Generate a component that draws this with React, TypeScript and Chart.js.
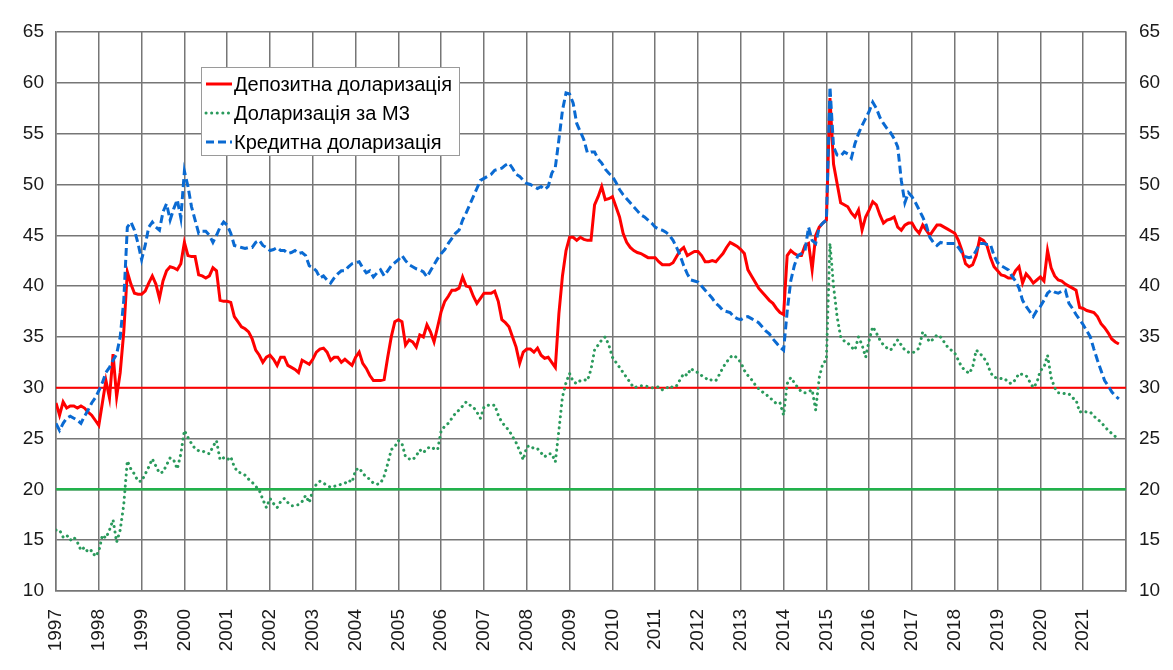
import { useEffect, useRef } from 'react';
import { Chart, registerables } from 'chart.js';

Chart.register(...registerables);

const START_YEAR = 1997;
const END_YEAR = 2022;
const TICK_YEARS = [1997, 1998, 1999, 2000, 2001, 2002, 2003, 2004, 2005, 2006, 2007, 2008, 2009, 2010, 2011, 2012, 2013, 2014, 2015, 2016, 2017, 2018, 2019, 2020, 2021];
const Y_MIN = 10;
const Y_MAX = 65;
const Y_STEP = 5;
const DEPOSIT_REF = 30;
const M3_REF = 20;

const SERIES_NAMES = ['Депозитна доларизація', 'Доларизація за М3', 'Кредитна доларизація'];

// monthly values, Jan 1997 .. Nov 2021
const depositDollarization = [
  28.5, 27.3, 28.6, 28.0, 28.2, 28.2, 28.0, 28.2, 28.0, 27.6, 27.3, 26.8,
  26.3, 28.5, 30.7, 29.0, 33.3, 29.1, 31.5, 35.5, 41.4, 40.2, 39.3, 39.2,
  39.2, 39.5, 40.3, 41.0, 40.2, 38.8, 40.5, 41.5, 41.9, 41.8, 41.6, 42.2,
  44.3, 43.0, 42.9, 42.9, 41.1, 41.0, 40.8, 41.0, 41.8, 41.5, 38.6, 38.5,
  38.5, 38.4, 37.0, 36.5, 36.0, 35.8, 35.5, 34.8, 33.7, 33.2, 32.5, 33.0,
  33.2, 32.8, 32.2, 33.0, 33.0, 32.2, 32.0, 31.8, 31.5, 32.7, 32.5, 32.3,
  32.8, 33.5, 33.8, 33.9, 33.5, 32.7, 33.0, 33.0, 32.5, 32.8, 32.5, 32.2,
  33.0, 33.5, 32.4, 31.9, 31.2, 30.7, 30.7, 30.7, 30.8, 33.0, 35.0, 36.5,
  36.7, 36.5, 34.2, 34.7, 34.5, 34.0, 35.2, 35.0, 36.2, 35.5, 34.5, 36.0,
  37.5, 38.5, 39.0, 39.6, 39.6, 39.8, 40.9, 40.0, 39.9, 39.0, 38.3, 38.8,
  39.3, 39.3, 39.3, 39.5, 38.5, 36.7, 36.4, 36.0, 35.0, 34.0, 32.4, 33.5,
  33.8, 33.8, 33.5, 33.9, 33.2, 32.9, 33.0, 32.5, 32.0, 37.3, 41.0, 43.5,
  44.8, 44.8, 44.5, 44.8, 44.6, 44.5, 44.5, 48.0, 48.8, 49.8, 48.5, 48.6,
  48.8, 47.8, 46.8, 45.2, 44.3, 43.8, 43.5, 43.3, 43.2, 43.0, 42.8, 42.8,
  42.8, 42.4, 42.1, 42.1, 42.1, 42.3, 42.9, 43.5, 43.8, 43.0, 43.2, 43.4,
  43.4, 43.0, 42.4, 42.4, 42.5, 42.4, 42.8, 43.2, 43.8, 44.3, 44.1, 43.9,
  43.6, 43.2, 41.6, 41.0, 40.4, 39.8, 39.4, 39.0, 38.6, 38.3, 37.8, 37.4,
  37.2, 43.0, 43.5, 43.2, 43.0, 43.0, 44.0, 44.2, 41.6, 45.0, 45.8, 46.2,
  46.5, 58.5, 52.0, 50.1, 48.2, 48.0, 47.8, 47.2, 46.8, 47.5, 45.5, 46.8,
  47.5, 48.3, 48.0, 47.0, 46.2, 46.5, 46.6, 46.8, 45.8, 45.5, 46.0, 46.2,
  46.2, 45.6, 45.2, 46.0, 45.5, 45.0, 45.5, 46.0, 46.0, 45.8, 45.6, 45.4,
  45.2, 44.5, 43.5, 42.2, 41.9, 42.1, 43.0, 44.7, 44.5, 44.0, 42.8, 41.9,
  41.5, 41.1, 41.0, 40.8, 40.8, 41.5, 41.9, 40.3, 41.2, 40.8, 40.3, 40.6,
  40.9, 40.5, 43.5, 41.8, 41.0, 40.6, 40.5, 40.2, 40.0, 39.8, 39.6, 37.9,
  37.8, 37.6, 37.5, 37.4, 37.0, 36.3, 35.9, 35.4, 34.8, 34.5, 34.3,
];

const m3Dollarization = [
  16.0, 16.0, 15.3, 15.5, 15.0, 15.3, 14.8, 14.0, 14.3, 13.8, 14.0, 13.4,
  13.9, 15.5, 15.2, 16.0, 17.0, 14.8, 16.0, 18.5, 22.8, 22.0, 21.5, 20.8,
  20.8, 21.5, 22.2, 23.0, 22.3, 21.6, 21.7, 22.4, 23.1, 22.9, 22.0, 23.5,
  25.8, 25.1, 24.5, 24.0, 23.8, 23.8, 23.6, 23.5, 24.2, 24.8, 22.9, 23.1,
  22.9, 23.2, 22.2, 21.7, 21.6, 21.4, 21.0, 20.7, 20.3, 19.9, 19.0, 18.2,
  19.1, 18.6, 18.2, 18.8, 19.1, 18.7, 18.4, 18.4, 18.5, 18.8, 19.4, 18.7,
  19.9, 20.5, 20.8, 20.6, 20.4, 20.2, 20.3, 20.4, 20.5, 20.6, 20.9, 20.7,
  21.9, 22.1, 21.6, 21.2, 21.0, 20.6, 20.5, 20.6, 21.3, 22.5, 23.9, 24.2,
  24.8, 24.5, 23.2, 23.0, 22.9, 23.3, 23.9, 23.6, 24.0, 24.2, 24.0, 23.9,
  25.8, 26.2, 26.5, 27.0, 27.5, 27.8, 28.2, 28.6, 28.3, 28.1, 27.6, 27.0,
  28.1, 28.3, 28.2, 28.3, 27.3, 26.6, 26.2, 25.8, 25.2, 24.6, 23.8, 22.9,
  24.2, 24.3, 24.0, 24.0, 23.6, 23.2, 23.5, 23.5, 22.7, 25.8, 29.1, 30.5,
  31.4, 30.6, 30.4, 30.7, 30.8, 30.7, 31.8, 33.7, 34.2, 34.7, 35.0, 34.2,
  33.0, 32.5, 32.0, 31.5, 31.0, 30.5, 30.0, 30.1, 30.2, 30.2, 30.1, 30.0,
  30.0, 30.1, 29.8, 29.9, 30.2, 30.0, 30.2, 30.8, 31.4, 31.2, 31.9, 31.6,
  31.5, 31.2, 31.0, 30.7, 30.8, 30.7, 31.3, 32.0, 32.5, 33.0, 33.2, 32.9,
  32.5, 31.7, 31.2, 30.8, 30.3, 29.9, 29.6, 29.4, 29.0, 28.8, 28.4, 28.5,
  27.3, 30.4, 31.0, 30.5, 30.0, 29.6, 29.5, 29.6, 29.8, 27.8, 31.0, 32.4,
  32.7, 44.2, 40.0, 37.0, 35.0, 34.6, 34.4, 34.0, 33.7, 35.0, 34.2, 33.0,
  34.7, 36.0, 35.4, 34.7, 34.2, 33.9, 33.7, 34.2, 34.7, 34.2, 33.7, 33.5,
  33.4, 33.6, 33.9, 35.5, 35.0, 34.5, 34.8, 35.2, 35.0, 34.5, 34.0, 33.7,
  33.4, 32.7, 32.0, 31.7, 31.4, 32.0, 33.7, 33.4, 33.0, 32.5, 31.5, 31.0,
  31.0, 30.9, 30.9, 30.5, 30.4, 30.8, 31.4, 31.3, 31.2, 30.6, 30.0, 30.5,
  31.7, 32.0, 33.2, 31.0, 30.0, 29.5, 29.5, 29.4, 29.4, 29.0, 28.8, 27.6,
  27.7, 27.6, 27.6, 27.2, 26.9, 26.6, 26.2, 25.8, 25.5, 25.2, 25.0,
];

const creditDollarization = [
  26.5, 25.8, 26.5, 27.0, 27.2, 27.0, 26.8, 26.5, 27.2, 27.8, 28.5, 29.0,
  29.7, 30.5, 31.5, 32.0, 32.7, 33.3, 35.0, 38.6, 45.8, 46.3, 45.5, 44.2,
  42.6, 44.0, 45.8, 46.3, 45.8, 45.5, 47.3, 48.1, 46.5, 47.6, 48.5, 46.7,
  51.3, 49.8, 47.8, 46.5, 45.2, 45.4, 45.4, 45.0, 44.3, 45.0, 45.8, 46.3,
  46.0, 45.2, 44.0, 43.9, 43.8, 43.7, 43.8, 43.8, 44.3, 44.5, 44.0, 43.8,
  43.5, 43.6, 43.8, 43.5, 43.5, 43.2, 43.3, 43.5, 43.2, 43.3, 43.0, 42.0,
  41.8, 41.5, 40.8, 41.0, 40.6, 40.3, 40.8, 41.2, 41.5, 41.5, 41.9, 42.2,
  42.3, 42.4, 41.8, 41.3, 41.5, 40.9, 41.3, 41.6, 41.0, 41.5, 42.0, 42.3,
  42.6, 43.0, 42.5, 42.1, 41.9, 41.7, 41.6, 41.4, 40.9, 41.5, 42.1, 42.7,
  43.2, 43.6, 44.2, 44.7, 45.2, 45.5, 46.5, 47.2, 48.0, 48.8, 49.6, 50.4,
  50.6, 50.8, 51.0, 51.4, 51.5, 51.6, 51.9, 52.1, 51.6, 51.0, 50.8, 50.4,
  50.1, 50.0, 49.8, 49.6, 49.8, 49.5, 49.8, 51.1, 51.7, 54.4, 57.3, 59.0,
  58.9, 58.0, 56.0, 55.2, 54.4, 53.1, 53.2, 53.2, 52.5, 52.1, 51.5, 51.1,
  50.8, 50.2, 49.5, 49.0, 48.6, 48.2, 47.8, 47.4, 47.0, 46.8, 46.5, 46.2,
  45.8, 45.6, 45.5, 45.3, 45.0, 44.5, 43.8, 43.0, 42.0, 41.2, 40.6, 40.5,
  40.4, 40.0, 39.6, 39.2, 38.8, 38.3, 38.0, 37.6, 37.5, 37.4, 37.0, 36.8,
  36.7, 36.9, 37.0, 36.8, 36.6, 36.4, 36.0, 35.6, 35.3, 34.8, 34.4, 34.0,
  33.7, 37.5, 40.5, 42.0, 43.0, 43.2, 43.5, 45.8, 44.5, 44.2, 45.8, 46.2,
  46.5, 59.6, 53.7, 52.9, 52.8, 53.2, 53.0, 52.6, 54.0, 55.0, 55.8, 56.5,
  57.2, 58.1, 57.5, 56.6, 56.0, 55.5, 55.1, 54.5, 53.7, 50.4, 48.2, 49.2,
  48.8, 48.2, 47.5, 46.8, 46.0, 44.8, 44.3, 44.0, 44.3, 44.2, 44.2, 44.2,
  44.2, 43.8, 43.3, 42.9, 42.8, 42.9, 43.5, 44.2, 44.2, 44.1, 44.1, 43.0,
  42.3, 42.0, 41.8, 41.6, 41.0, 40.5, 39.8, 38.6, 38.0, 37.5, 37.0, 37.6,
  38.0, 38.6, 39.3, 39.6, 39.4, 39.3, 39.5, 39.6, 38.3, 37.8, 37.2, 36.7,
  36.2, 35.6, 35.0, 33.8, 32.7, 31.7, 30.7, 30.2, 29.6, 29.2, 28.9,
];

const RED = '#ff0000';
const GREEN_DOT = '#2a9a5c';
const BLUE = '#0a6ad2';
const GREEN_LINE = '#22b24c';
const GRID = '#767676';
const FONT = '"Liberation Sans", Arial, sans-serif';

const toPoints = (values: number[]) =>
  values.map((v, i) => ({ x: START_YEAR + i / 12, y: v }));

const refLine = (value: number) => [
  { x: START_YEAR, y: value },
  { x: END_YEAR, y: value },
];

const framePlugin = {
  id: 'frame',
  beforeDraw(chart: any) {
    const ctx = chart.ctx;
    ctx.save();
    ctx.fillStyle = '#ffffff';
    ctx.fillRect(0, 0, chart.width, chart.height);
    ctx.strokeStyle = '#d9d9d9';
    ctx.lineWidth = 1.5;
    ctx.beginPath();
    ctx.moveTo(7, chart.height);
    ctx.lineTo(7, 5);
    ctx.lineTo(chart.width, 5);
    ctx.stroke();
    ctx.restore();
  },
};

const legendPlugin = {
  id: 'boxLegend',
  afterDraw(chart: any) {
    const ctx = chart.ctx;
    const a = chart.chartArea;
    const x0 = a.left + 145;
    const y0 = a.top + 35;
    const w = 258;
    const h = 88;
    ctx.save();
    ctx.fillStyle = '#ffffff';
    ctx.fillRect(x0, y0, w, h);
    ctx.strokeStyle = '#9a9a9a';
    ctx.lineWidth = 1;
    ctx.strokeRect(x0 + 0.5, y0 + 0.5, w, h);
    const styles = [
      { color: RED, dash: [] as number[], cap: 'butt' },
      { color: GREEN_DOT, dash: [0.1, 5.5], cap: 'round' },
      { color: BLUE, dash: [8, 4], cap: 'butt' },
    ];
    ctx.font = '20px ' + FONT;
    ctx.textBaseline = 'middle';
    ctx.textAlign = 'left';
    SERIES_NAMES.forEach((name, i) => {
      const cy = y0 + 17 + i * 29;
      const s = styles[i];
      ctx.strokeStyle = s.color;
      ctx.lineWidth = 3;
      ctx.lineCap = s.cap;
      ctx.setLineDash(s.dash);
      ctx.beginPath();
      ctx.moveTo(x0 + 5, cy);
      ctx.lineTo(x0 + 31, cy);
      ctx.stroke();
      ctx.setLineDash([]);
      ctx.fillStyle = '#000000';
      ctx.fillText(name, x0 + 33, cy + 1);
    });
    ctx.restore();
  },
};

export default function App() {
  const canvasRef = useRef<HTMLCanvasElement | null>(null);

  useEffect(() => {
    if (!canvasRef.current) return;
    const tickFont = { family: FONT, size: 19 };
    const chart = new Chart(canvasRef.current, {
      type: 'line',
      data: {
        datasets: [
          {
            label: SERIES_NAMES[0],
            data: toPoints(depositDollarization),
            borderColor: RED,
            borderWidth: 3,
            pointRadius: 0,
            tension: 0,
            order: 1,
          },
          {
            label: SERIES_NAMES[1],
            data: toPoints(m3Dollarization),
            borderColor: GREEN_DOT,
            borderWidth: 3,
            borderDash: [0.1, 5.5],
            borderCapStyle: 'round',
            pointRadius: 0,
            tension: 0,
            order: 2,
          },
          {
            label: SERIES_NAMES[2],
            data: toPoints(creditDollarization),
            borderColor: BLUE,
            borderWidth: 3,
            borderDash: [8, 4],
            pointRadius: 0,
            tension: 0,
            order: 0,
          },
          {
            label: 'ref30',
            data: refLine(DEPOSIT_REF),
            borderColor: RED,
            borderWidth: 2,
            pointRadius: 0,
            order: 5,
          },
          {
            label: 'ref20',
            data: refLine(M3_REF),
            borderColor: GREEN_LINE,
            borderWidth: 2.5,
            pointRadius: 0,
            order: 5,
          },
        ],
      },
      options: {
        animation: false,
        responsive: false,
        maintainAspectRatio: false,
        parsing: false,
        layout: { padding: { top: 32, left: 0, right: 0, bottom: 0 } },
        plugins: {
          legend: { display: false },
          tooltip: { enabled: false },
        },
        scales: {
          x: {
            type: 'linear',
            min: START_YEAR,
            max: END_YEAR,
            ticks: {
              stepSize: 1,
              autoSkip: false,
              minRotation: 90,
              maxRotation: 90,
              padding: 18,
              color: '#1a1a1a',
              font: tickFont,
              callback: (v: any) => (TICK_YEARS.includes(Number(v)) ? String(v) : ''),
            },
            grid: { color: GRID, lineWidth: 1.5, drawTicks: false },
            border: { color: GRID, width: 1.5 },
            afterFit: (s: any) => {
              s.height = 79;
            },
          },
          y: {
            position: 'left',
            min: Y_MIN,
            max: Y_MAX,
            ticks: { stepSize: Y_STEP, padding: 12, color: '#1a1a1a', font: tickFont },
            grid: { color: GRID, lineWidth: 1.5, drawTicks: false },
            border: { color: GRID, width: 1.5 },
            afterFit: (s: any) => {
              s.width = 56;
            },
          },
          y2: {
            position: 'right',
            min: Y_MIN,
            max: Y_MAX,
            ticks: { stepSize: Y_STEP, padding: 13, color: '#1a1a1a', font: tickFont },
            grid: { display: false, drawTicks: false },
            border: { color: GRID, width: 1.5 },
            afterFit: (s: any) => {
              s.width = 47;
            },
          },
        },
      },
      plugins: [framePlugin, legendPlugin],
    } as any);
    return () => chart.destroy();
  }, []);

  return (
    <div style={{ position: 'relative', margin: '-8px 0 0 -8px', width: 1173, height: 670 }}>
      <canvas ref={canvasRef} width={1173} height={670} style={{ display: 'block', width: 1173, height: 670 }} />
    </div>
  );
}
